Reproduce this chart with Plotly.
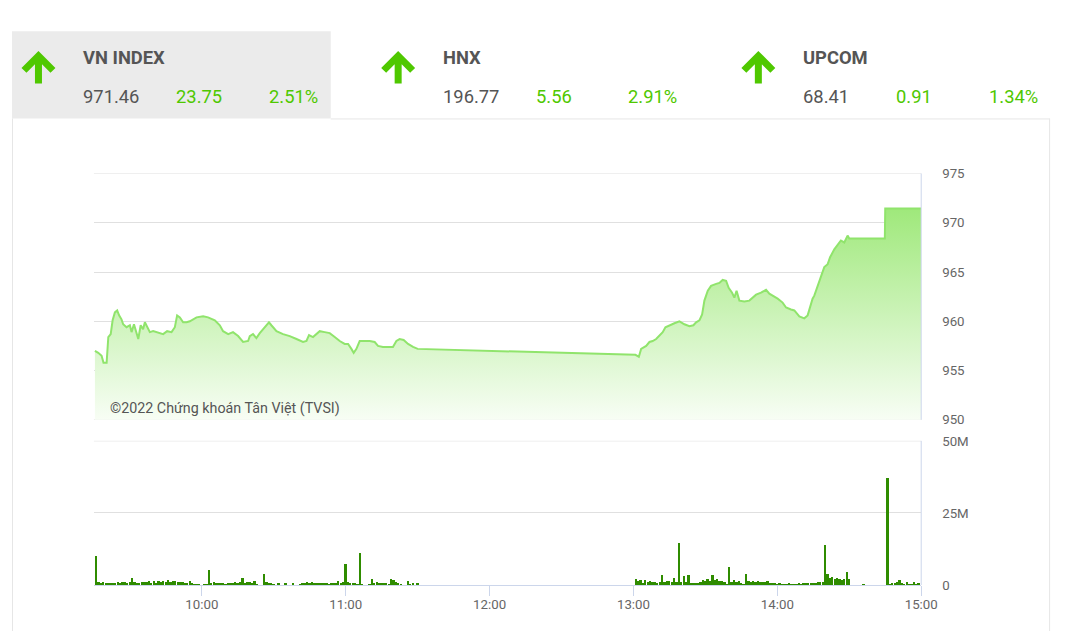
import plotly.graph_objects as go
import pandas as pd

W, H = 1073, 631
# the photographed page comes out slightly shrunk; layout positions below are given in
# target-picture pixels and converted to page pixels here
SX, SY, BY = 0.985, 0.975, 6.7
def px(x): return (x / SX) / W
def py(y): return 1 - ((y - BY) / SY) / H
def fs(v): return round(v / 0.98, 2)

DAY = "2022-06-01 "

# ---------------- header data ----------------
index_names = ["VN INDEX", "HNX", "UPCOM"]
index_values = ["971.46", "196.77", "68.41"]
index_changes = ["23.75", "5.56", "0.91"]
index_pcts = ["2.51%", "2.91%", "1.34%"]

# ---------------- price data (VN-Index intraday) ----------------
price_times = [
    "09:15:25", "09:16:48", "09:18:12", "09:19:00", "09:20:18", "09:21:00", "09:22:00", "09:22:48",
    "09:23:45", "09:24:42", "09:25:30", "09:26:30", "09:27:12", "09:28:36", "09:30:00", "09:30:42",
    "09:31:42", "09:32:48", "09:33:30", "09:34:30", "09:35:30", "09:36:15", "09:37:12", "09:38:20",
    "09:39:42", "09:41:06", "09:42:30", "09:43:52", "09:45:32", "09:47:22", "09:48:45", "09:49:42",
    "09:50:50", "09:52:12", "09:53:38", "09:55:00", "09:57:48", "10:00:32", "10:02:36", "10:05:25",
    "10:07:30", "10:08:52", "10:11:00", "10:13:00", "10:15:08", "10:17:12", "10:19:18", "10:20:00",
    "10:21:20", "10:22:45", "10:24:10", "10:26:15", "10:28:00", "10:29:00", "10:31:08", "10:33:52",
    "10:36:40", "10:39:28", "10:42:12", "10:43:38", "10:44:42", "10:46:22", "10:47:48", "10:49:10",
    "10:51:15", "10:53:20", "10:55:25", "10:57:30", "10:59:35", "11:01:00", "11:02:22", "11:03:20",
    "11:04:28", "11:05:50", "11:07:55", "11:10:00", "11:12:05", "11:13:28", "11:15:32", "11:18:20",
    "11:19:42", "11:21:08", "11:22:30", "11:24:10", "11:26:00", "11:28:05", "11:29:28", "11:30:00",
    "13:00:50", "13:01:48", "13:02:15", "13:03:12", "13:05:18", "13:06:40", "13:08:00", "13:09:28",
    "13:10:50", "13:12:12", "13:13:20", "13:15:00", "13:17:05", "13:19:10", "13:21:15", "13:23:20",
    "13:25:00", "13:26:08", "13:27:30", "13:28:38", "13:29:35", "13:31:00", "13:32:22", "13:34:30",
    "13:35:50", "13:37:12", "13:38:38", "13:39:42", "13:41:08", "13:42:05", "13:43:00", "13:44:10",
    "13:46:15", "13:48:20", "13:49:42", "13:51:08", "13:53:12", "13:55:18", "13:56:40", "13:58:00",
    "14:00:08", "14:02:12", "14:03:38", "14:05:42", "14:07:05", "14:09:10", "14:11:15", "14:12:38",
    "14:13:38", "14:14:42", "14:15:25", "14:16:08", "14:16:48", "14:17:30", "14:18:12", "14:19:35",
    "14:21:00", "14:22:00", "14:23:45", "14:25:08", "14:26:30", "14:27:55", "14:29:18", "14:30:00",
    "14:44:50", "14:45:00", "15:00:00",
]
price_vals = [
    957.0, 956.8, 956.5, 955.8, 955.8, 958.4, 958.7, 960.1,
    960.9, 961.1, 960.6, 960.2, 959.7, 959.4, 959.6, 958.9,
    959.7, 958.7, 958.2, 959.6, 959.2, 959.9, 959.4, 958.9,
    959.0, 958.9, 958.8, 958.7, 959.0, 958.9, 959.4, 960.6,
    960.4, 959.9, 959.9, 960.0, 960.4, 960.5, 960.4, 960.1,
    959.6, 959.0, 958.7, 958.9, 958.5, 957.9, 958.0, 958.5,
    958.7, 958.3, 958.8, 959.4, 959.9, 959.6, 959.0, 958.7,
    958.5, 958.2, 957.9, 958.0, 958.6, 958.4, 958.7, 959.0,
    958.9, 958.8, 958.4, 958.0, 957.7, 957.7, 957.2, 956.8,
    957.2, 958.0, 958.0, 958.0, 957.9, 957.5, 957.4, 957.4,
    957.4, 958.0, 958.2, 958.1, 957.7, 957.4, 957.2, 957.2,
    956.6, 956.5, 956.4, 957.2, 957.5, 957.9, 958.0, 958.2,
    958.5, 958.9, 959.4, 959.6, 959.8, 960.0, 959.7, 959.5,
    959.6, 959.9, 960.1, 960.7, 962.1, 963.1, 963.6, 963.8,
    963.9, 964.2, 964.1, 963.4, 962.9, 962.4, 963.1, 962.1,
    962.0, 962.1, 962.4, 962.7, 962.9, 963.2, 962.8, 962.6,
    962.3, 961.9, 961.4, 961.2, 961.1, 960.5, 960.3, 960.6,
    961.5, 962.3, 962.6, 963.1, 963.6, 964.1, 964.6, 965.5,
    965.8, 966.5, 967.3, 967.7, 968.2, 968.0, 968.7, 968.4,
    968.4, 971.46, 971.46,
]

# ---------------- volume data (millions of shares per minute) ----------------
vol_morning = [  # 09:16 .. 11:30
    10.0, 1.2, 0.8, 1.2, 0.8, 0.7, 0.8, 0.9, 0.7, 1.0,
    0.9, 1.1, 1.0, 0.9, 1.2, 2.5, 1.0, 0.8, 0.7, 1.0,
    1.1, 1.0, 1.3, 0.9, 1.5, 0.8, 1.6, 1.0, 1.4, 1.2,
    1.7, 1.0, 1.5, 1.3, 1.2, 1.0, 1.1, 0.8, 0.9, 1.5,
    0.7, 0.5, 0.3, 0.2, 0.0, 0.2, 0.3, 5.4, 0.8, 1.2,
    0.8, 0.9, 0.7, 0.6, 0.5, 0.6, 0.8, 0.9, 1.0, 0.9,
    1.1, 2.5, 0.9, 1.0, 1.2, 0.8, 1.6, 0.5, 0.0, 0.0,
    3.9, 1.0, 0.8, 0.9, 0.5, 0.0, 0.6, 0.0, 0.0, 0.8,
    0.0, 0.0, 0.7, 0.0, 0.0, 0.5, 0.8, 0.6, 1.0, 0.9,
    1.2, 0.8, 0.7, 0.9, 0.6, 0.7, 0.8, 0.5, 0.6, 0.9,
    0.7, 1.3, 0.8, 1.0, 7.2, 1.0, 0.8, 0.7, 0.6, 0.3,
    11.0, 0.5, 0.0, 0.0, 0.4, 2.0, 0.6, 1.0, 0.7, 0.8,
    0.6, 0.9, 0.5, 2.0, 1.8, 1.0, 0.8, 0.5, 0.0, 0.0,
    1.6, 0.3, 0.8, 0.0, 0.8,
]
vol_afternoon = [  # 13:01 .. 14:30
    2.0, 1.5, 1.8, 0.8, 1.7, 1.0, 1.5, 1.2, 1.0, 0.8,
    1.2, 3.5, 1.0, 1.5, 1.3, 1.2, 2.5, 1.0, 14.7, 1.0,
    3.1, 1.0, 3.5, 0.8, 0.7, 0.8, 0.9, 1.0, 1.8, 1.5,
    2.0, 1.6, 3.5, 1.8, 2.0, 1.5, 1.3, 1.0, 0.5, 6.2,
    1.2, 1.7, 1.0, 1.3, 0.8, 0.5, 4.0, 1.5, 1.0, 1.6,
    1.2, 1.4, 1.0, 1.2, 1.0, 1.3, 0.9, 0.8, 0.6, 0.5,
    0.6, 0.5, 0.4, 0.5, 0.6, 0.5, 0.4, 0.5, 0.6, 0.5,
    0.6, 0.7, 0.6, 0.8, 0.7, 0.9, 1.0, 1.1, 1.2, 14.1,
    4.0, 2.5, 2.8, 2.2, 2.6, 2.0, 1.8, 2.3, 4.4, 2.0,
]
late_times = ["14:36", "14:46", "14:47", "14:48", "14:49", "14:50", "14:51", "14:52",
              "14:53", "14:54", "14:55", "14:56", "14:57", "14:58", "14:59"]
late_vol = [0.5, 37.0, 0.5, 0.6, 0.6, 1.0, 1.7, 0.8, 0.5, 1.2, 0.4, 0.3, 1.2, 0.5, 0.6]

hour_ticks = ["10:00", "11:00", "12:00", "13:00", "14:00", "15:00"]
price_ticks = [950, 955, 960, 965, 970, 975]
vol_ticks = [0, 25, 50]
vol_tick_text = ["0", "25M", "50M"]

# ---------------- build ----------------
GREEN = "#4fc800"
GRAY_TXT = "#555555"
AXIS_TXT = "#666666"
GRID = "#e0e0e0"
AXISLINE = "#ccd6eb"
FONT = "Roboto"

p_x = [DAY + t for t in price_times]
m_times = list(pd.date_range(DAY + "09:16", periods=len(vol_morning), freq="min"))
a_times = list(pd.date_range(DAY + "13:01", periods=len(vol_afternoon), freq="min"))
l_times = [pd.Timestamp(DAY + t) for t in late_times]
v_x = m_times + a_times + l_times
v_y = vol_morning + vol_afternoon + late_vol

fig = go.Figure()
fig.add_trace(go.Scatter(
    x=p_x, y=price_vals, mode="lines", xaxis="x", yaxis="y",
    line=dict(color="#90e46c", width=2),
    fill="tozeroy",
    fillgradient=dict(type="vertical", start=950, stop=972,
                      colorscale=[[0, "rgba(250,254,248,1)"], [1, "rgba(157,232,120,1)"]]),
    hoverinfo="skip", showlegend=False,
))
fig.add_trace(go.Bar(
    x=v_x, y=v_y, xaxis="x2", yaxis="y2", width=45000,
    marker=dict(color="#2f8c00", line=dict(width=0)),
    hoverinfo="skip", showlegend=False,
))

xr = [DAY + "09:15", DAY + "15:00"]
tickfont = dict(family=FONT, size=fs(13), color=AXIS_TXT)
fig.update_layout(
    width=W, height=H, autosize=False,
    margin=dict(l=0, r=0, t=0, b=0),
    paper_bgcolor="white", plot_bgcolor="white",
    bargap=0,
    xaxis=dict(domain=[px(94), px(922)], type="date", range=xr, anchor="y",
               showticklabels=False, showgrid=False, zeroline=False, showline=False, ticks=""),
    yaxis=dict(domain=[py(419), py(173)], range=[950, 975], side="right", anchor="x",
               tickvals=price_ticks, showgrid=True, gridcolor=GRID, gridwidth=1,
               zeroline=False, showline=False, ticks="", tickfont=tickfont,
               ticklabelstandoff=20),
    xaxis2=dict(domain=[px(94), px(922)], type="date", range=xr, anchor="y2",
                tickvals=[DAY + t for t in hour_ticks], ticktext=hour_ticks,
                showgrid=False, zeroline=False, showline=True, linecolor=AXISLINE, linewidth=1,
                ticks="outside", ticklen=10, tickcolor=AXISLINE, tickwidth=1, tickfont=tickfont,
                ticklabelstandoff=-3),
    yaxis2=dict(domain=[py(584), py(440)], range=[0, 50], side="right", anchor="x2",
                tickvals=vol_ticks, ticktext=vol_tick_text, showgrid=True, gridcolor=GRID,
                zeroline=False, showline=False, ticks="", tickfont=tickfont,
                ticklabelstandoff=20),
)

shapes = []
# header gray box
shapes.append(dict(type="rect", xref="paper", yref="paper", x0=px(12), x1=px(331), y0=py(118), y1=py(31),
                   fillcolor="#ebebeb", line=dict(width=0), layer="below"))
# container borders
for (x0, y0, x1, y1) in [(12.5, 118, 12.5, 640), (1050.5, 118, 1050.5, 640), (331, 118.5, 1050.5, 118.5)]:
    shapes.append(dict(type="line", xref="paper", yref="paper", x0=px(x0), x1=px(x1), y0=py(y0), y1=py(y1),
                       line=dict(color="#e6e6e6", width=1)))
# edge gridlines (top/bottom of price panel, top of volume panel)
for (yref, yv) in [("y", 975), ("y", 950), ("y2", 50)]:
    shapes.append(dict(type="line", xref="paper", yref=yref, x0=px(94), x1=px(922), y0=yv, y1=yv,
                       line=dict(color=GRID, width=1), layer="below"))
# plot right borders
for (y0, y1) in [(173, 419), (440, 584)]:
    shapes.append(dict(type="line", xref="paper", yref="paper", x0=px(922), x1=px(922), y0=py(y0), y1=py(y1),
                       line=dict(color=AXISLINE, width=1)))
# arrows
for cx in [38.5, 398.5, 759]:
    path = (f"M {px(cx-14.5)},{py(70)} L {px(cx)},{py(55.5)} L {px(cx+14.5)},{py(70)} "
            f"M {px(cx)},{py(57)} L {px(cx)},{py(83)}")
    shapes.append(dict(type="path", xref="paper", yref="paper", path=path,
                       line=dict(color=GREEN, width=7)))
fig.update_layout(shapes=shapes)

ann = []
name_x = [81, 441, 802]
for i in range(3):
    x0 = name_x[i]
    ann.append(dict(x=px(x0), y=py(57), xref="paper", yref="paper", xanchor="left", yanchor="middle",
                    text=f"<b>{index_names[i]}</b>", showarrow=False,
                    font=dict(family=FONT, size=fs(18), color=GRAY_TXT)))
    ann.append(dict(x=px(x0), y=py(96), xref="paper", yref="paper", xanchor="left", yanchor="middle",
                    text=index_values[i], showarrow=False,
                    font=dict(family=FONT, size=fs(18), color=GRAY_TXT)))
    ann.append(dict(x=px(x0 + 93), y=py(96), xref="paper", yref="paper", xanchor="left", yanchor="middle",
                    text=index_changes[i], showarrow=False,
                    font=dict(family=FONT, size=fs(18), color=GREEN)))
    ann.append(dict(x=px(x0 + 186), y=py(96), xref="paper", yref="paper", xanchor="left", yanchor="middle",
                    text=index_pcts[i], showarrow=False,
                    font=dict(family=FONT, size=fs(18), color=GREEN)))
ann.append(dict(x=px(108), y=py(408), xref="paper", yref="paper", xanchor="left", yanchor="middle",
                text="©2022 Chứng khoán Tân Việt (TVSI)", showarrow=False,
                font=dict(family=FONT, size=fs(14), color=GRAY_TXT)))
fig.update_layout(annotations=ann)

fig.write_html("out.html", config={"displayModeBar": False},
               post_script="document.body.style.margin='0';document.body.style.overflow='hidden';")
